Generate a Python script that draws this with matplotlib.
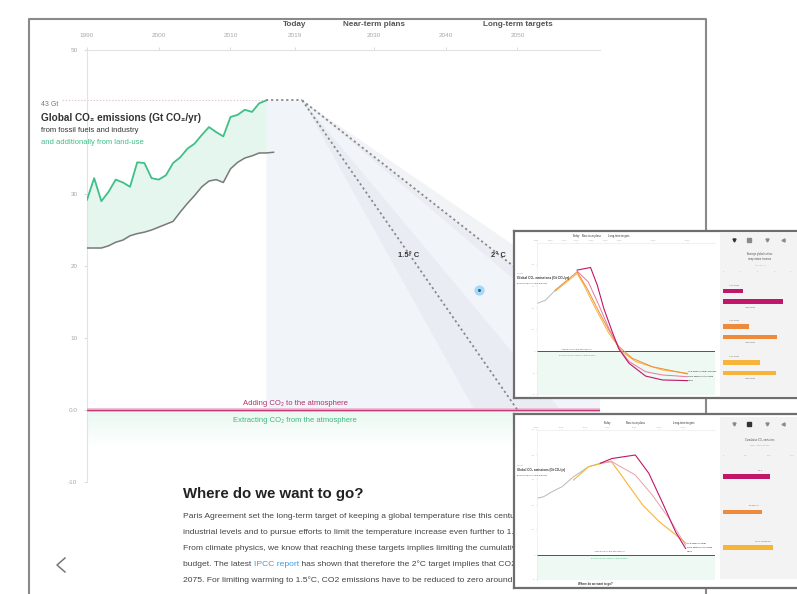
import matplotlib

matplotlib.use("Agg")
import matplotlib.pyplot as plt
import numpy as np
from matplotlib.colors import LinearSegmentedColormap

plt.rcParams["font.family"] = ["Liberation Sans", "DejaVu Sans"]

W, H = 797, 594

# --- main chart data (Gt CO2 / yr) ---
fossil_years = list(range(1990, 2017))
fossil = [22.5, 22.5, 22.5, 22.8, 23.3, 23.6, 24.2, 24.5, 24.7, 25.0, 25.4, 25.8, 26.2, 27.5,
          28.7, 29.8, 31.0, 31.8, 32.0, 31.6, 33.5, 34.4, 35.0, 35.3, 35.7, 35.7, 35.8]
total_years = list(range(1990, 2016))
total = [29.2, 32.2, 29.0, 30.3, 32.0, 31.6, 31.0, 34.4, 34.3, 32.2, 32.0, 32.6, 34.3, 35.1,
         36.3, 37.0, 38.2, 39.3, 38.6, 38.0, 40.7, 41.0, 41.7, 41.4, 42.6, 43.0]
today_level = 43
plateau_years = [2015, 2020]
path_15_years = [2020, 2050]
path_20_years = [2020, 2075]
cone_15 = [2044, 2056]
cone_20 = [2071, 2083]
marker_point = (2044.7, 16.7)
main_xticks = [1990, 2000, 2010, 2019, 2030, 2040, 2050]
main_yticks = [50, 30, 20, 10, 0, -10]
main_ylabels = ["50", "30", "20", "10", "0.0", "-10"]
phases = [(2019, "Today"), (2030, "Near-term plans"), (2050, "Long-term targets")]

# --- thumbnail 1: temperature scenarios ---
t1_gray_x = [1990, 1996.1, 2001, 2003.4]
t1_gray_y = [22.1, 23.6, 26.7, 28.3]
t1_mag_x = [2019.3, 2029.1, 2034, 2038.8, 2044.9, 2049.8, 2057.2, 2069.3, 2081.6, 2099.9]
t1_mag_y = [37.5, 38.7, 30.6, 19.8, 9.1, 1.1, -5.5, -11.4, -13.2, -13.5]
t1_pink_x = [2019.3, 2027.4, 2035.2, 2042.5, 2049.8, 2057.2, 2069.3, 2081.6, 2099.9]
t1_pink_y = [37.0, 32.1, 21.3, 10.6, 1.4, -4.7, -9.4, -10.9, -11.7]
t1_orange_x = [2003.4, 2019.3, 2026.6, 2035.2, 2042.5, 2049.8, 2059.6, 2074.2, 2099.9]
t1_orange_y = [28.3, 36.7, 29.0, 18.3, 9.8, 2.2, -3.2, -7.1, -10.4]
t1_yellow_x = [2003.4, 2019.3, 2024.2, 2032.7, 2042.5, 2052.3, 2062, 2081.6, 2099.9]
t1_yellow_y = [27.8, 35.9, 30.6, 19.8, 8.3, -0.2, -4.7, -8.6, -10.1]
t1_xticks = [1990, 2000, 2010, 2019, 2030, 2040, 2050, 2075, 2100]
t1_yticks = [40, 30, 20, 10, 0, -10, -20]
t1_bar_values = [[1.2, 3.5], [1.5, 3.2], [2.2, 3.1]]
t1_bar_ticks = [0, 1, 2, 3, 4]

# --- thumbnail 2: cumulative emissions ---
t2_gray_x = [1990, 1992.7, 1996.1, 2000.2, 2004.9, 2011, 2015.8]
t2_gray_y = [22.7, 23.3, 25.3, 27.3, 31.3, 35.3, 36.7]
t2_mag_x = [2015.8, 2020.6, 2030.1, 2035.6, 2041, 2046.5, 2050.6]
t2_mag_y = [36.7, 38.6, 40.0, 32.7, 21.3, 9.3, 2.6]
t2_pink_x = [2015.8, 2020.6, 2030.1, 2037, 2043.8, 2050.6]
t2_pink_y = [36.7, 37.3, 32.0, 24.0, 14.7, 4.0]
t2_orange_x = [2004.9, 2011, 2020.2, 2026.3, 2033.1, 2039.9, 2046.7, 2050.8]
t2_orange_y = [30.0, 35.3, 37.6, 29.3, 20.0, 13.3, 8.0, 4.7]
t2_xticks = [1990, 2000, 2010, 2019, 2030, 2040, 2050]
t2_yticks = [50, 40, 30, 20, 10, 0, -10]
t2_bar_values = [1020, 850, 1090]
t2_bar_labels = ["1.5°C", "Below 2°C", "Paris Agreement"]
t2_bar_ticks = [0, 500, 1000, 1500]

MAGENTA, PINK, ORANGE, YELLOW = "#c0176a", "#e6789f", "#ef8a3c", "#f7b43a"
GREEN, GRAY = "#40bf88", "#7a7a7a"


def rect(x0, y0, x1, y1):
    return [x0 / W, 1 - y1 / H, (x1 - x0) / W, (y1 - y0) / H]


def ftext(x, y, s, z=3, **kw):
    return fig.text(x / W, 1 - y / H, s, zorder=z, **kw)


fig = plt.figure(figsize=(W / 100, H / 100), dpi=100)

# page frame and decorations
page = fig.add_axes([0, 0, 1, 1], zorder=0)
page.set_xlim(0, W)
page.set_ylim(H, 0)
page.axis("off")
page.plot([29, 29, 706, 706], [H, 19, 19, H], color="#8a8a8a", lw=1.5)
page.plot([65, 57, 65], [558, 565, 572], color="#777777", lw=1.1)

# ---------------- main chart ----------------
ax = fig.add_axes(rect(87, 50, 600, 482), zorder=1)
ax.set_facecolor("none")

mint = LinearSegmentedColormap.from_list("mint", ["#ffffff", "#ffffff", "#eaf8f1"])
ax.imshow(np.linspace(0, 1, 64).reshape(-1, 1), extent=[1990, 2061.5, -10, 0], origin="lower",
          cmap=mint, aspect="auto", zorder=0.5)

ax.fill([plateau_years[0], plateau_years[0], plateau_years[1], path_20_years[1]],
        [0, today_level, today_level, 0], color="#f1f5fa", lw=0, zorder=1)
for lo, hi in (cone_15, cone_20):
    ax.fill([path_15_years[0], lo, hi], [today_level, 0, 0], color="#dfe3e9", alpha=0.4,
            lw=0, zorder=1.2)

ax.fill_between(total_years, fossil[:len(total_years)], total, color="#e5f6ee", lw=0, zorder=2)
ax.plot(total_years, total, color=GREEN, lw=1.3, zorder=3)
ax.plot(fossil_years, fossil, color=GRAY, lw=1.1, zorder=3)

dots = (0, (1.2, 1.6))
ax.plot([1986.5, plateau_years[0]], [today_level, today_level], color="#dcc6ce", lw=0.8,
        ls=dots, clip_on=False, zorder=2)
ax.plot(plateau_years, [today_level, today_level], color="#888888", lw=1.3, ls=dots, zorder=4)
ax.plot(path_15_years, [today_level, 0], color="#888888", lw=1.3, ls=dots, zorder=4)
ax.plot(path_20_years, [today_level, 0], color="#888888", lw=1.3, ls=dots, zorder=4)
ax.text(2034.8, 21.5, "1.5° C", fontsize=5.4, fontweight="bold", color="#333333", ha="center",
        va="center", zorder=5)
ax.text(2047.3, 21.5, "2° C", fontsize=5.4, fontweight="bold", color="#333333", ha="center",
        va="center", zorder=5)
ax.scatter([marker_point[0]], [marker_point[1]], s=55, color="#a9d9f2", lw=0, zorder=5)
ax.scatter([marker_point[0]], [marker_point[1]], s=5, color="#1b6fa8", lw=0, zorder=6)

ax.axhline(0, color="#ecb6cb", lw=2.6, zorder=3)
ax.axhline(0, color="#c8377a", lw=0.9, zorder=3.1)
ax.text(2019, 0.9, "Adding CO₂ to the atmosphere", fontsize=5.5, color="#b3306c", ha="center",
        va="center", zorder=5)
ax.text(2019, -1.4, "Extracting CO₂ from the atmosphere", fontsize=5.5, color="#3fb97e",
        ha="center", va="center", zorder=5)

ax.set_xlim(1990, 2061.5)
ax.set_ylim(-10, 50)
ax.xaxis.tick_top()
ax.set_xticks(main_xticks, [str(t) for t in main_xticks])
ax.set_yticks(main_yticks, main_ylabels)
ax.tick_params(axis="both", length=2.5, width=0.6, color="#d5d5d5", labelsize=4.6,
               labelcolor="#a8a8a8")
ax.tick_params(axis="x", pad=6.3)
ax.tick_params(axis="y", pad=4.3)
for side in ("right", "bottom"):
    ax.spines[side].set_visible(False)
for side in ("left", "top"):
    ax.spines[side].set_color("#e2e2e2")
    ax.spines[side].set_linewidth(0.8)
for yr, name in phases:
    ax.text(yr, 1.06, name, transform=ax.get_xaxis_transform(), fontsize=5.9, fontweight="bold",
            color="#555555", ha="center", va="center")

ftext(41, 104, "43 Gt", fontsize=5, color="#777777", va="center")
ftext(41, 118, "Global CO₂ emissions (Gt CO₂/yr)", fontsize=7.2, fontweight="bold",
      color="#333333", va="center")
ftext(41, 130, "from fossil fuels and industry", fontsize=5.5, color="#333333", va="center")
ftext(41, 143, "and additionally from land-use", fontsize=5.5, color=GREEN, va="center")

# ---------------- article text ----------------
ftext(183, 494, "Where do we want to go?", fontsize=10.8, fontweight="bold", color="#222222",
      va="center")
para = [
    "Paris Agreement set the long-term target of keeping a global temperature rise this century well below 2°C",
    "industrial levels and to pursue efforts to limit the temperature increase even further to 1.5°C.",
    "From climate physics, we know that reaching these targets implies limiting the cumulative CO2 emissions",
    None,
    "2075. For limiting warming to 1.5°C, CO2 emissions have to be reduced to zero around 2050.",
]
line_y = [516, 532, 548, 564, 580]
renderer = fig.canvas.get_renderer()
for y, line in zip(line_y, para):
    if line is not None:
        ftext(183, y, line, fontsize=6.1, color="#444444", va="center")
        continue
    x = 183
    for part, col in (("budget. The latest ", "#444444"), ("IPCC report", "#3a9ee0"),
                      (" has shown that therefore the 2°C target implies that CO2 emissions", "#444444")):
        t = ftext(x, y, part, fontsize=6.1, color=col, va="center")
        x = t.get_window_extent(renderer).x1


# ---------------- thumbnails ----------------
def mini_chart(box_px, xlim, ylim, xticks, yticks):
    m = fig.add_axes(rect(*box_px), zorder=11)
    m.set_facecolor("none")
    m.set_xlim(*xlim)
    m.set_ylim(*ylim)
    m.axhspan(ylim[0], 0, color="#eef9f3", lw=0, zorder=0)
    m.axhline(0, color=MAGENTA, lw=0.7, zorder=2)
    m.xaxis.tick_top()
    m.set_xticks(xticks, [str(t) for t in xticks])
    m.set_yticks(yticks, [str(t) for t in yticks])
    m.tick_params(axis="both", length=0.8, width=0.3, color="#dddddd", labelsize=1.7,
                  labelcolor="#b0b0b0", pad=0.6)
    for side in ("right", "bottom"):
        m.spines[side].set_visible(False)
    for side in ("left", "top"):
        m.spines[side].set_color("#e6e6e6")
        m.spines[side].set_linewidth(0.4)
    for yr, name in phases:
        m.text(yr, 1.045, name, transform=m.get_xaxis_transform(), fontsize=1.8,
               fontweight="bold", color="#666666", ha="center", va="center")
    return m


def frame_box(box_px):
    b = fig.add_axes(rect(*box_px), zorder=10)
    b.set_facecolor("white")
    b.set_xticks([])
    b.set_yticks([])
    for s in b.spines.values():
        s.set_color("#6e6e6e")
        s.set_linewidth(1.6)
    return b


def side_panel(box_px, xlim, ylim):
    p = fig.add_axes(rect(*box_px), zorder=11)
    p.set_facecolor("#f3f3f3")
    p.set_xlim(*xlim)
    p.set_ylim(*ylim)
    p.set_xticks([])
    p.set_yticks([])
    for s in p.spines.values():
        s.set_visible(False)
    return p


def icons(y, active):
    for i, (x, mk) in enumerate(zip([734, 749, 767, 783], ["v", "s", "v", "<"])):
        col = "#333333" if i == active else "#8a8a8a"
        fig.add_artist(plt.Line2D([x / W], [1 - y / H], marker=mk, ms=2.2, color=col, lw=0,
                                  zorder=20))
        ftext(x, y + 6, "·····", z=20, fontsize=1.2, color="#b0b0b0", ha="center", va="center")


# thumbnail 1
frame_box((514, 231, 800, 398))
m1 = mini_chart((537, 243, 715, 394.7), (1990, 2120), (-20, 50), t1_xticks, t1_yticks)
m1.plot(t1_gray_x, t1_gray_y, color="#b8b8b8", lw=0.7)
m1.plot(t1_yellow_x, t1_yellow_y, color=YELLOW, lw=0.7)
m1.plot(t1_orange_x, t1_orange_y, color=ORANGE, lw=0.7)
m1.plot(t1_pink_x, t1_pink_y, color=PINK, lw=0.7)
m1.plot(t1_mag_x, t1_mag_y, color=MAGENTA, lw=0.8)
m1.text(2019, 1.0, "Adding CO₂ to the atmosphere", fontsize=1.6, color="#b3306c",
        ha="center", va="center")
m1.text(2019, -1.7, "Extracting CO₂ from the atmosphere", fontsize=1.6, color="#3fb97e",
        ha="center", va="center")
for k, s in enumerate(["Low-carbon energy scenario", "Paris agreement on track", "NDCs"]):
    m1.text(2100.5, -9.3 - 2.1 * k, s, fontsize=1.6, color="#222222", va="center")
ftext(517, 273, "43 Gt", z=20, fontsize=1.6, color="#888888", va="center")
ftext(517, 278, "Global CO₂ emissions (Gt CO₂/yr)", z=20, fontsize=2.3, fontweight="bold",
      color="#333333", va="center")
ftext(517, 283, "from fossil fuels and industry", z=20, fontsize=1.7, color="#555555",
      va="center")

p1 = side_panel((720, 233, 797, 396), (-3 / 17, 74 / 17), (10.0, -5.52))
for g, pair in enumerate(t1_bar_values):
    col = [MAGENTA, ORANGE, YELLOW][g]
    p1.barh([g * 3.4, g * 3.4 + 1.0], pair, height=0.43, left=0, color=col)
    p1.text(0.35, g * 3.4 - 0.55, "lower bound", fontsize=1.4, color="#777777", va="center")
    p1.text(1.3, g * 3.4 + 1.55, "upper bound", fontsize=1.4, color="#777777", va="center")
for t in t1_bar_ticks:
    p1.text(t, -1.9, str(t), fontsize=1.5, color="#aaaaaa", ha="center", va="center")
p1.text(0.52, 0.855, "Average global surface\ntemperature increase", transform=p1.transAxes,
        fontsize=1.8, color="#555555", ha="center", va="center", linespacing=1.3)
p1.text(0.52, 0.8, "in 2100, °C", transform=p1.transAxes, fontsize=1.5, color="#999999",
        ha="center", va="center")
icons(240, 0)

# thumbnail 2
frame_box((514, 414, 800, 588))
m2 = mini_chart((537, 430, 715, 580), (1990, 2062.6), (-10, 50), t2_xticks, t2_yticks)
m2.plot(t2_gray_x, t2_gray_y, color="#b8b8b8", lw=0.7)
m2.plot(t2_orange_x, t2_orange_y, color=YELLOW, lw=0.8)
m2.plot(t2_pink_x, t2_pink_y, color="#e3a3a6", lw=0.7)
m2.plot(t2_mag_x, t2_mag_y, color=MAGENTA, lw=0.8)
m2.text(2019.4, 1.3, "Adding CO₂ to the atmosphere", fontsize=1.6, color="#b3306c",
        ha="center", va="center")
m2.text(2019.4, -1.5, "Extracting CO₂ from the atmosphere", fontsize=1.6, color="#3fb97e",
        ha="center", va="center")
for k, s in enumerate(["Low-carbon energy", "Paris agreement on track", "NDCs"]):
    m2.text(2051.2, 4.6 - 1.6 * k, s, fontsize=1.6, color="#222222", va="center")
ftext(517, 465, "43 Gt", z=20, fontsize=1.6, color="#888888", va="center")
ftext(517, 470, "Global CO₂ emissions (Gt CO₂/yr)", z=20, fontsize=2.2, fontweight="bold",
      color="#333333", va="center")
ftext(517, 475, "from fossil fuels and industry", z=20, fontsize=1.7, color="#555555",
      va="center")
ftext(595, 584, "Where do we want to go?", z=20, fontsize=2.1, fontweight="bold",
      color="#333333", ha="center", va="center")

p2 = side_panel((720, 417, 797, 579), (-3 / 23 * 500, 74 / 23 * 500), (2.887, -1.676))
for g, (val, lab) in enumerate(zip(t2_bar_values, t2_bar_labels)):
    p2.barh([g], [val], height=0.14, left=0, color=[MAGENTA, ORANGE, YELLOW][g])
    p2.text(val * 0.8, g - 0.17, lab, fontsize=1.5, color="#666666", ha="center", va="center")
for t in t2_bar_ticks:
    p2.text(t, -0.6, str(t), fontsize=1.5, color="#aaaaaa", ha="center", va="center")
p2.text(0.52, 0.855, "Cumulative CO₂ emissions", transform=p2.transAxes, fontsize=1.8,
        color="#555555", ha="center", va="center")
p2.text(0.52, 0.825, "2015 – 2100, Gt CO₂", transform=p2.transAxes, fontsize=1.5,
        color="#999999", ha="center", va="center")
icons(424, 1)

fig.savefig("out.png", dpi=100)
